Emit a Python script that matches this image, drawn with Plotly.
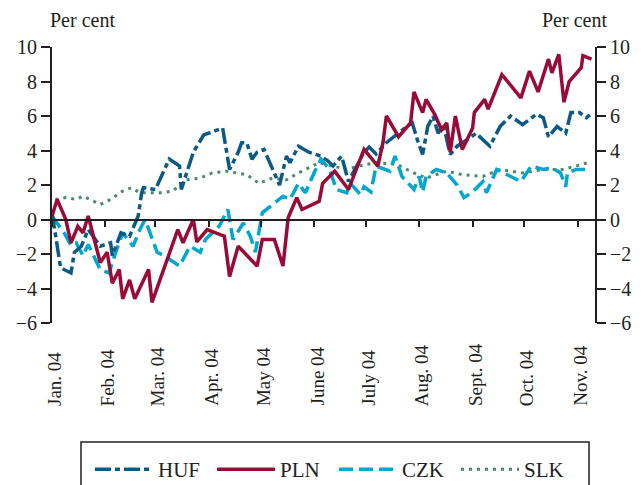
import plotly.graph_objects as go

# ---------------- data ----------------
month_ticks = ["2004-01-01", "2004-02-01", "2004-03-01", "2004-04-01", "2004-05-01", "2004-06-01",
               "2004-07-01", "2004-08-01", "2004-09-01", "2004-10-01", "2004-11-01"]
month_labels = ["Jan. 04", "Feb. 04", "Mar. 04", "Apr. 04", "May 04", "June 04",
                "July 04", "Aug. 04", "Sept. 04", "Oct. 04", "Nov. 04"]

pln_dates = ["2004-01-01", "2004-01-04", "2004-01-09", "2004-01-12", "2004-01-16", "2004-01-19",
             "2004-01-22", "2004-01-29", "2004-02-02", "2004-02-05", "2004-02-09", "2004-02-11",
             "2004-02-15", "2004-02-18", "2004-02-26", "2004-02-28", "2004-03-14", "2004-03-17",
             "2004-03-23", "2004-03-25", "2004-03-31", "2004-04-10", "2004-04-13", "2004-04-18",
             "2004-04-29", "2004-05-02", "2004-05-09", "2004-05-14", "2004-05-17", "2004-05-22",
             "2004-05-25", "2004-06-04", "2004-06-06", "2004-06-13", "2004-06-21", "2004-06-30",
             "2004-07-08", "2004-07-11", "2004-07-13", "2004-07-20", "2004-07-27", "2004-07-29",
             "2004-08-03", "2004-08-05", "2004-08-10", "2004-08-14", "2004-08-17", "2004-08-19",
             "2004-08-22", "2004-08-26", "2004-09-01", "2004-09-02", "2004-09-08", "2004-09-10",
             "2004-09-18", "2004-09-29", "2004-10-04", "2004-10-09", "2004-10-15", "2004-10-17",
             "2004-10-21", "2004-10-24", "2004-10-27", "2004-11-03", "2004-11-04", "2004-11-09"]
pln_values = [0.2, 1.16, 0.0, -1.35, -0.4, -0.77,
              0.2, -2.5, -1.9, -3.7, -2.9, -4.6,
              -3.5, -4.6, -2.9, -4.8, -0.58, -1.35,
              0.0, -1.3, -0.58, -0.97, -3.3, -1.55,
              -2.7, -1.16, -1.16, -2.7, 0.1, 1.27,
              0.58, 1.06, 2.1, 2.8, 1.74, 4.06,
              3.1, 4.45, 6.0, 4.8, 5.6, 7.4,
              6.2, 6.96, 6.1, 5.2, 5.6, 3.9,
              6.0, 4.06, 5.3, 6.2, 6.96, 6.4,
              8.4, 7.05, 8.6, 7.4, 9.3, 8.5,
              9.57, 6.8, 8.0, 8.8, 9.5, 9.3]

huf_dates = ["2004-01-01", "2004-01-06", "2004-01-12", "2004-01-14", "2004-01-18", "2004-01-22",
             "2004-01-29", "2004-02-04", "2004-02-05", "2004-02-10", "2004-02-15", "2004-02-20",
             "2004-02-22", "2004-02-23", "2004-03-01", "2004-03-09", "2004-03-15", "2004-03-16",
             "2004-03-23", "2004-03-29", "2004-04-09", "2004-04-13", "2004-04-18", "2004-04-20",
             "2004-04-23", "2004-04-26", "2004-04-29", "2004-05-03", "2004-05-12", "2004-05-16",
             "2004-05-18", "2004-05-23", "2004-05-29", "2004-06-05", "2004-06-09", "2004-06-12",
             "2004-06-17", "2004-06-21", "2004-06-30", "2004-07-03", "2004-07-07", "2004-07-13",
             "2004-07-25", "2004-07-28", "2004-07-31", "2004-08-03", "2004-08-06", "2004-08-09",
             "2004-08-12", "2004-08-15", "2004-08-19", "2004-08-23", "2004-08-29", "2004-09-03",
             "2004-09-11", "2004-09-17", "2004-09-23", "2004-09-30", "2004-10-08", "2004-10-12",
             "2004-10-15", "2004-10-20", "2004-10-25", "2004-10-28", "2004-11-02", "2004-11-06",
             "2004-11-08"]
huf_values = [0.4, -2.8, -3.1, -1.9, -1.55, -0.58,
              -1.55, -1.35, -2.1, -0.77, -0.97, 0.2,
              1.55, 1.85, 1.74, 3.5, 3.1, 1.74,
              3.9, 4.9, 5.3, 2.9, 3.9, 4.45,
              4.45, 3.5, 3.9, 4.06, 2.0, 3.67,
              3.3, 4.25, 3.9, 3.67, 3.4, 3.1,
              3.67, 2.2, 3.9, 4.2, 3.8, 4.45,
              5.4, 5.6, 4.6, 3.77, 5.4, 6.0,
              5.0, 5.5, 3.77, 4.25, 4.64, 5.0,
              4.25, 5.4, 6.0, 5.5, 6.1, 5.9,
              4.8, 5.4, 5.0, 6.2, 6.2, 5.9,
              6.06]

czk_dates = ["2004-01-01", "2004-01-08", "2004-01-12", "2004-01-15", "2004-01-19", "2004-01-22",
             "2004-01-29", "2004-02-03", "2004-02-07", "2004-02-11", "2004-02-17", "2004-02-21",
             "2004-02-24", "2004-02-27", "2004-03-02", "2004-03-06", "2004-03-15", "2004-03-21",
             "2004-03-27", "2004-03-30", "2004-04-07", "2004-04-12", "2004-04-15", "2004-04-21",
             "2004-04-25", "2004-04-28", "2004-05-02", "2004-05-14", "2004-05-18", "2004-05-23",
             "2004-05-27", "2004-06-01", "2004-06-05", "2004-06-10", "2004-06-14", "2004-06-20",
             "2004-06-22", "2004-06-28", "2004-06-30", "2004-07-04", "2004-07-07", "2004-07-15",
             "2004-07-18", "2004-07-22", "2004-07-29", "2004-08-01", "2004-08-03", "2004-08-05",
             "2004-08-11", "2004-08-17", "2004-08-23", "2004-08-27", "2004-09-01", "2004-09-07",
             "2004-09-09", "2004-09-15", "2004-09-23", "2004-09-29", "2004-10-05", "2004-10-12",
             "2004-10-17", "2004-10-22", "2004-10-25", "2004-10-26", "2004-10-31", "2004-11-08"]
czk_values = [0.2, -0.77, -1.5, -1.35, -2.1, -1.45,
              -2.9, -3.1, -1.9, -0.77, -1.55, -0.58,
              0.0, -0.77, -1.9, -2.1, -2.7, -1.55,
              -1.9, -1.16, -0.39, 0.58, -1.16, -0.2,
              -0.97, -1.9, 0.39, 1.35, 1.16, 2.1,
              1.55, 2.7, 3.5, 2.9, 1.74, 1.55,
              2.1, 1.45, 1.9, 1.6, 3.1, 2.8,
              3.67, 2.5, 1.74, 2.5, 1.6, 2.5,
              2.9, 2.7, 2.0, 1.27, 1.6, 2.2,
              1.55, 2.9, 2.5, 2.2, 3.1, 2.9,
              3.0, 2.7, 1.9, 2.7, 2.9, 2.9]

slk_dates = ["2004-01-03", "2004-01-09", "2004-01-15", "2004-01-19", "2004-01-23", "2004-01-29",
             "2004-02-04", "2004-02-11", "2004-02-16", "2004-02-21", "2004-02-27", "2004-03-05",
             "2004-03-11", "2004-03-19", "2004-03-27", "2004-04-03", "2004-04-11", "2004-04-23",
             "2004-04-30", "2004-05-08", "2004-05-16", "2004-05-23", "2004-06-04", "2004-06-12",
             "2004-06-20", "2004-06-27", "2004-07-07", "2004-07-19", "2004-07-29", "2004-08-05",
             "2004-08-17", "2004-08-26", "2004-09-07", "2004-09-17", "2004-09-30", "2004-10-12",
             "2004-10-23", "2004-10-31", "2004-11-07"]
slk_values = [1.16, 1.27, 1.16, 1.35, 1.16, 0.87,
              1.16, 1.65, 1.84, 1.55, 1.55, 1.55,
              1.65, 2.3, 2.4, 2.7, 2.8, 2.6,
              2.1, 2.4, 2.3, 2.7, 3.3, 3.1,
              2.9, 3.1, 3.3, 3.2, 2.7, 2.4,
              2.8, 2.6, 2.5, 2.9, 2.7, 2.9,
              2.9, 3.1, 3.3]

y_range = [-6, 10]
x_range = ["2004-01-01", "2004-11-11"]

# ---------------- styling ----------------
FONT = "Liberation Serif, Times New Roman, serif"
INK = "#231f20"
C_HUF = "#0b5a86"
C_PLN = "#9a0a36"
C_CZK = "#00a7d0"
C_SLK = "#4a8b6b"

W, H = 642, 485
LEGEND_TOP_PX = 449          # legend top, measured from the top of the page

fig = go.Figure()
fig.add_trace(go.Scatter(x=slk_dates, y=slk_values, name="SLK", mode="lines", legendrank=4,
                         line=dict(color=C_SLK, width=3, dash="3px,5px")))
fig.add_trace(go.Scatter(x=czk_dates, y=czk_values, name="CZK", mode="lines", legendrank=3,
                         line=dict(color=C_CZK, width=3.5, dash="14px,6px")))
fig.add_trace(go.Scatter(x=huf_dates, y=huf_values, name="HUF", mode="lines", legendrank=1,
                         line=dict(color=C_HUF, width=3.5, dash="16px,4px,5px,4px")))
fig.add_trace(go.Scatter(x=pln_dates, y=pln_values, name="PLN", mode="lines", legendrank=2,
                         line=dict(color=C_PLN, width=3.5)))
# empty helper trace so the right-hand axis is drawn
fig.add_trace(go.Scatter(x=[pln_dates[0]], y=[None], yaxis="y2", showlegend=False,
                         hoverinfo="skip", mode="lines"))

axis_common = dict(range=y_range, dtick=2, tick0=0, showgrid=False, zeroline=False,
                   showline=True, linecolor=INK, linewidth=2, ticks="outside",
                   ticklen=9, tickwidth=2, tickcolor=INK,
                   tickfont=dict(family=FONT, size=20, color=INK))

zero_pos = (0 - y_range[0]) / (y_range[1] - y_range[0])

fig.update_layout(
    width=W, height=H,
    margin=dict(l=52, r=47, t=47, b=162),
    paper_bgcolor="white", plot_bgcolor="white",
    font=dict(family=FONT, color=INK, size=20),
    xaxis=dict(type="date", range=x_range, showgrid=False, zeroline=False,
               anchor="free", position=zero_pos,
               showline=True, linecolor=INK, linewidth=2,
               ticks="outside", ticklen=6, tickwidth=2, tickcolor=INK,
               tickvals=month_ticks, showticklabels=False),
    yaxis=dict(**axis_common, side="left"),
    yaxis2=dict(**axis_common, side="right", overlaying="y", anchor="x"),
    showlegend=True,
    legend=dict(orientation="h", x=0.07, xanchor="left", xref="paper",
                y=(H - LEGEND_TOP_PX) / H, yanchor="top", yref="container",
                bgcolor="rgba(0,0,0,0)", borderwidth=0,
                font=dict(family=FONT, size=21, color=INK),
                entrywidth=49, entrywidthmode="pixels", itemwidth=58,
                traceorder="normal"),
)

# month labels (rotated, bottom-aligned like the original)
for d, lab in zip(month_ticks, month_labels):
    fig.add_annotation(x=d, xref="x", y=-0.297, yref="paper", text=lab, textangle=-90,
                       showarrow=False, xanchor="center", yanchor="bottom",
                       xshift=3, yshift=-3,
                       font=dict(family=FONT, size=19, color=INK))

# "Per cent" axis titles
fig.add_annotation(x=0.057, y=1.098, xref="paper", yref="paper", text="Per cent",
                   showarrow=False, xanchor="center", yanchor="middle",
                   font=dict(family=FONT, size=20, color=INK))
fig.add_annotation(x=0.963, y=1.098, xref="paper", yref="paper", text="Per cent",
                   showarrow=False, xanchor="center", yanchor="middle",
                   font=dict(family=FONT, size=20, color=INK))

# legend frame (runs off the bottom of the picture as in the original)
fig.add_shape(type="rect", xref="paper", yref="paper", x0=0.0534, x1=0.989,
              y0=-0.4312, y1=-0.66, line=dict(color=INK, width=1.5), fillcolor="rgba(0,0,0,0)")

fig.write_html("out.html", config={"displayModeBar": False},
               post_script="document.body.style.margin='0px';document.body.style.overflow='hidden';")
